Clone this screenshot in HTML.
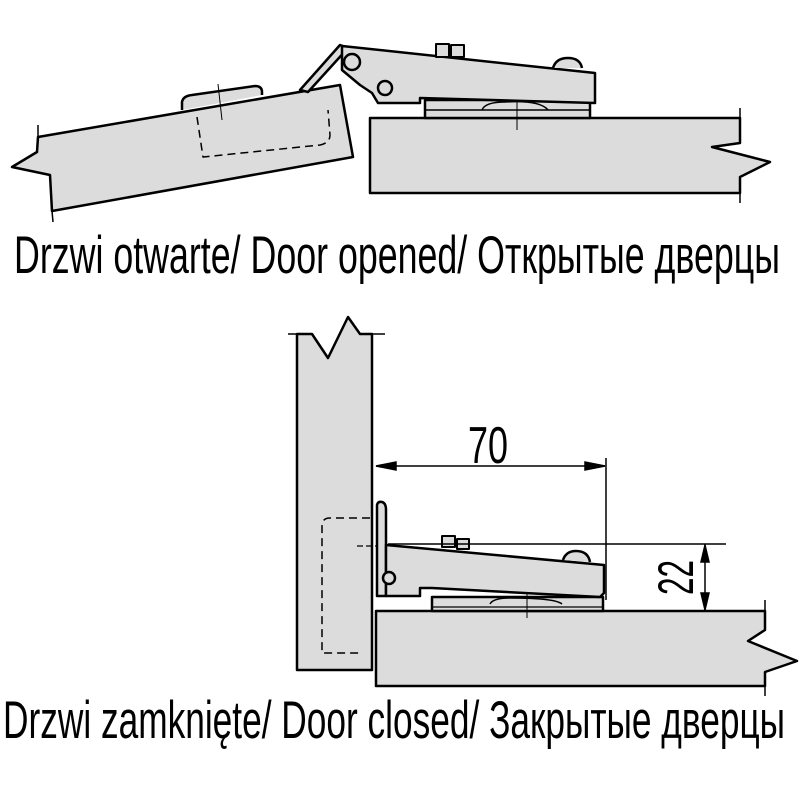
<!DOCTYPE html>
<html><head><meta charset="utf-8"><style>html,body{margin:0;padding:0;background:#fff}svg{display:block}</style></head>
<body>
<svg width="800" height="800" viewBox="0 0 800 800" xmlns="http://www.w3.org/2000/svg">
<g stroke="#000" stroke-width="2.5" fill="#dcdcdc" stroke-linejoin="round">
<!-- TOP FIGURE -->
<polygon points="38,137 340,85 353,157 52,211 50,175 12,167 37,152"/>
<line x1="38" y1="125" x2="38" y2="137" stroke-width="1.5"/>
<line x1="52" y1="211" x2="53" y2="222" stroke-width="1.5"/>
<path d="M182,110 L182,102 Q183,96 192,95 L255,86 Q262,86 262,92 L262,95" fill="#dcdcdc"/>
<path d="M197,117 L203,157 L320,145 Q330,143 330,135 L328,110" fill="none" stroke-width="1.5" stroke-dasharray="8,5"/>
<line x1="218" y1="84" x2="222" y2="120" stroke-width="1" />
<polygon points="370,118 740,118 740,143 712,147 770,162 740,177 740,193 370,193"/>
<line x1="740" y1="108" x2="740" y2="118" stroke-width="1.5"/>
<line x1="740" y1="193" x2="740" y2="203" stroke-width="1.5"/>
<rect x="425" y="100" width="165" height="18"/>
<path d="M482,110 Q485,102 505,102 Q540,100 548,110" fill="none" stroke-width="1.5"/>
<line x1="425" y1="110" x2="590" y2="110" stroke-width="1.5"/>
<line x1="517" y1="95" x2="517" y2="130" stroke-width="1"/>
<polygon points="300,90 340,45 348,48 308,92"/>
<polygon points="342,46 595,73 595,103 420,98 420,103 378,103 372,93 360,85 342,70"/>
<circle cx="352" cy="62" r="8"/>
<circle cx="385" cy="88" r="7"/>
<path d="M553,68 Q556,58 568,58 Q580,58 582,68" />
<rect x="436" y="44" width="13" height="13" stroke-width="2"/>
<rect x="451" y="45" width="13" height="12" stroke-width="2"/>

<!-- BOTTOM FIGURE -->
<polygon points="297,334 312,334 328,358 348,317 360,334 372,334 372,670 297,670"/>
<line x1="288" y1="334" x2="297" y2="334" stroke-width="1.5"/>
<line x1="372" y1="334" x2="385" y2="334" stroke-width="1.5"/>
<polygon points="376,611 765,611 765,630 748,641 797,661 765,672 765,686 376,686"/>
<line x1="765" y1="600" x2="765" y2="611" stroke-width="1.5"/>
<line x1="765" y1="686" x2="765" y2="696" stroke-width="1.5"/>
<path d="M370,518 L330,518 Q322,518 322,526 L322,653 L362,653" fill="none" stroke-width="1.5" stroke-dasharray="8,5"/>
<line x1="357" y1="546" x2="376" y2="546" stroke-width="1.2" stroke-dasharray="6,3"/>
<path d="M377,596 L377,505 Q378,501 382,502 Q386,503 386,510 L386,596 Z"/>
<rect x="432" y="597" width="171" height="14"/>
<path d="M490,604 Q493,598 510,598 Q555,598 562,604" fill="none" stroke-width="1.5"/>
<line x1="432" y1="607" x2="603" y2="607" stroke-width="1.2"/>
<line x1="527" y1="588" x2="527" y2="618" stroke-width="1"/>
<polygon points="386,545 604,565 604,593 600,597 432,588 420,588 420,596 386,596"/>
<circle cx="389" cy="578" r="6"/>
<path d="M563,560 Q566,551 576,551 Q588,551 590,562"/>
<rect x="442" y="536" width="13" height="11" stroke-width="2"/>
<rect x="457" y="539" width="12" height="10" stroke-width="2"/>
</g>
<g stroke="#000" stroke-width="1.5" fill="#000">
<line x1="376" y1="466" x2="605" y2="466"/>
<polygon points="376,466 396,462 396,470"/>
<polygon points="605,466 585,462 585,470"/>
<line x1="606" y1="458" x2="606" y2="600"/>
<line x1="388" y1="544" x2="726" y2="544"/>
<line x1="705" y1="544" x2="705" y2="611"/>
<polygon points="705,545 701,562 709,562"/>
<polygon points="705,610 701,593 709,593"/>
</g>
<g font-family="'Liberation Sans Narrow', 'Liberation Sans', sans-serif" fill="#000">
<text x="468" y="463" font-size="52" textLength="40" lengthAdjust="spacingAndGlyphs">70</text>
<text transform="translate(693,595) rotate(-90)" font-size="50" textLength="35" lengthAdjust="spacingAndGlyphs">22</text>
<text x="14" y="273" font-size="53" textLength="766" lengthAdjust="spacingAndGlyphs">Drzwi otwarte/ Door opened/ Открытые дверцы</text>
<text x="3" y="738" font-size="53" textLength="782" lengthAdjust="spacingAndGlyphs">Drzwi zamknięte/ Door closed/ Закрытые  дверцы</text>
</g>
</svg>
</body></html>
